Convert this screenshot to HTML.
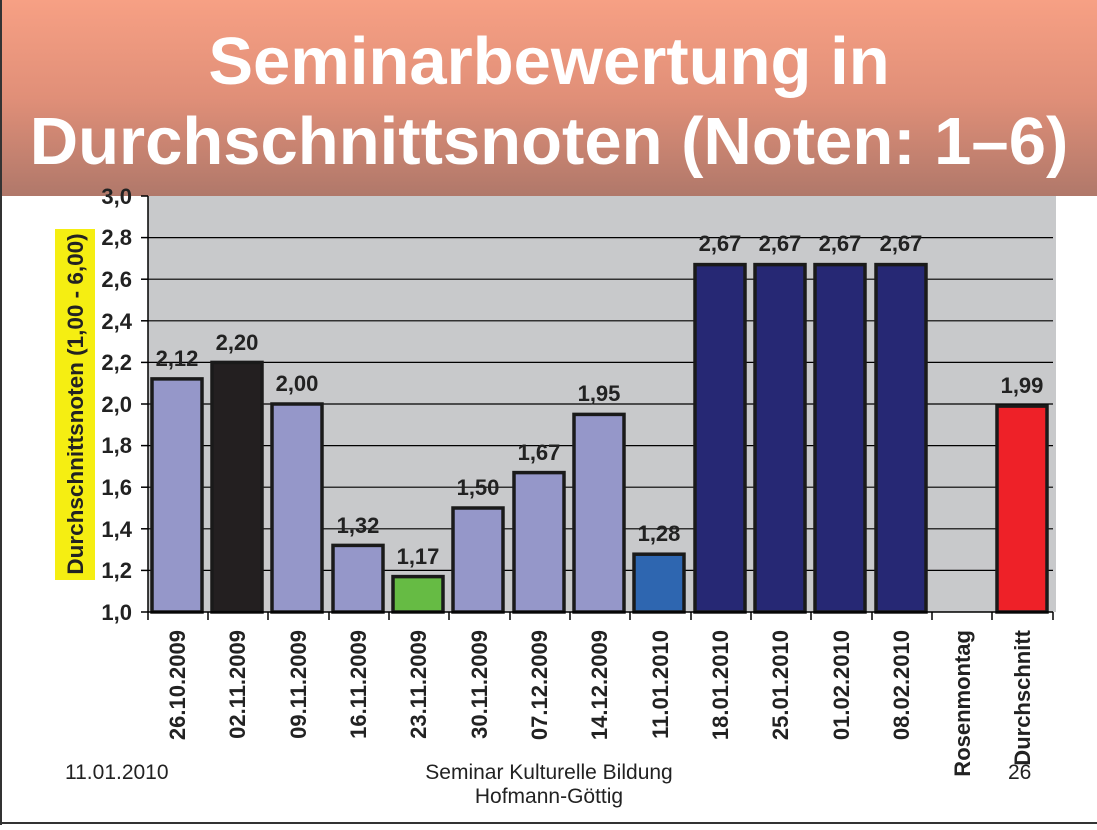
<!DOCTYPE html>
<html><head><meta charset="utf-8"><style>
body{margin:0;width:1097px;height:825px;background:#fff;overflow:hidden;font-family:"Liberation Sans",sans-serif;}
</style></head><body>
<svg width="1097" height="825" viewBox="0 0 1097 825" xmlns="http://www.w3.org/2000/svg" font-family="Liberation Sans, sans-serif">
<defs><linearGradient id="g" x1="0" y1="0" x2="0" y2="1">
<stop offset="0" stop-color="#f7a084"/><stop offset="0.5" stop-color="#e08f78"/><stop offset="1" stop-color="#b0786a"/></linearGradient></defs>
<rect x="0" y="0" width="1097" height="196" fill="url(#g)"/>
<line x1="1" y1="0" x2="1" y2="825" stroke="#333" stroke-width="2"/>
<line x1="0" y1="823" x2="1097" y2="823" stroke="#333" stroke-width="2"/>
<text x="549" y="84" font-size="67" font-weight="bold" fill="#fff" text-anchor="middle">Seminarbewertung in</text>
<text x="549" y="164" font-size="67" font-weight="bold" fill="#fff" text-anchor="middle">Durchschnittsnoten (Noten: 1–6)</text>
<rect x="148" y="196" width="908" height="416" fill="#c8c9cb"/>
<g stroke="#000" stroke-width="1.2">
<line x1="148" y1="237.6" x2="1053" y2="237.6"/><line x1="148" y1="279.2" x2="1053" y2="279.2"/>
<line x1="148" y1="320.8" x2="1053" y2="320.8"/><line x1="148" y1="362.4" x2="1053" y2="362.4"/>
<line x1="148" y1="404" x2="1053" y2="404"/><line x1="148" y1="445.6" x2="1053" y2="445.6"/>
<line x1="148" y1="487.2" x2="1053" y2="487.2"/><line x1="148" y1="528.8" x2="1053" y2="528.8"/>
<line x1="148" y1="570.4" x2="1053" y2="570.4"/>
</g>
<g stroke="#1a1a1a" stroke-width="3.5">
<rect x="152" y="378.9" width="50" height="233.1" fill="#9597c9"/>
<rect x="212" y="362.4" width="50" height="249.6" fill="#231f20"/>
<rect x="272" y="404" width="50" height="208" fill="#9597c9"/>
<rect x="333" y="545.4" width="50" height="66.6" fill="#9597c9"/>
<rect x="393" y="576.6" width="50" height="35.4" fill="#66bb44"/>
<rect x="453" y="508" width="50" height="104" fill="#9597c9"/>
<rect x="514" y="472.6" width="50" height="139.4" fill="#9597c9"/>
<rect x="574" y="414.4" width="50" height="197.6" fill="#9597c9"/>
<rect x="634" y="554.2" width="50" height="57.8" fill="#2e66b0"/>
<rect x="695" y="264.6" width="50" height="347.4" fill="#262874"/>
<rect x="755" y="264.6" width="50" height="347.4" fill="#262874"/>
<rect x="815" y="264.6" width="50" height="347.4" fill="#262874"/>
<rect x="876" y="264.6" width="50" height="347.4" fill="#262874"/>
<rect x="997" y="406.1" width="50" height="205.9" fill="#ee2128"/>
</g>
<g font-size="22" font-weight="bold" fill="#222" text-anchor="middle">
<text x="177" y="366">2,12</text><text x="237" y="350">2,20</text><text x="297" y="391">2,00</text>
<text x="358" y="533">1,32</text><text x="418" y="564">1,17</text><text x="478" y="495">1,50</text>
<text x="539" y="460">1,67</text><text x="599" y="401">1,95</text><text x="659" y="541">1,28</text>
<text x="720" y="251">2,67</text><text x="780" y="251">2,67</text><text x="840" y="251">2,67</text>
<text x="901" y="251">2,67</text><text x="1022" y="393">1,99</text>
</g>
<g stroke="#000" stroke-width="1.5">
<line x1="148" y1="196" x2="148" y2="620"/><line x1="148" y1="612" x2="1053" y2="612"/>
<line x1="141" y1="196" x2="148" y2="196"/><line x1="141" y1="237.6" x2="148" y2="237.6"/>
<line x1="141" y1="279.2" x2="148" y2="279.2"/><line x1="141" y1="320.8" x2="148" y2="320.8"/>
<line x1="141" y1="362.4" x2="148" y2="362.4"/><line x1="141" y1="404" x2="148" y2="404"/>
<line x1="141" y1="445.6" x2="148" y2="445.6"/><line x1="141" y1="487.2" x2="148" y2="487.2"/>
<line x1="141" y1="528.8" x2="148" y2="528.8"/><line x1="141" y1="570.4" x2="148" y2="570.4"/>
<line x1="141" y1="612" x2="148" y2="612"/>
<line x1="208" y1="612" x2="208" y2="620"/><line x1="268" y1="612" x2="268" y2="620"/>
<line x1="329" y1="612" x2="329" y2="620"/><line x1="389" y1="612" x2="389" y2="620"/>
<line x1="449" y1="612" x2="449" y2="620"/><line x1="510" y1="612" x2="510" y2="620"/>
<line x1="570" y1="612" x2="570" y2="620"/><line x1="630" y1="612" x2="630" y2="620"/>
<line x1="691" y1="612" x2="691" y2="620"/><line x1="751" y1="612" x2="751" y2="620"/>
<line x1="811" y1="612" x2="811" y2="620"/><line x1="872" y1="612" x2="872" y2="620"/>
<line x1="932" y1="612" x2="932" y2="620"/><line x1="992" y1="612" x2="992" y2="620"/>
<line x1="1053" y1="612" x2="1053" y2="620"/>
</g>
<g font-size="22" font-weight="bold" fill="#222" text-anchor="end">
<text x="132" y="204">3,0</text><text x="132" y="245">2,8</text><text x="132" y="287">2,6</text>
<text x="132" y="329">2,4</text><text x="132" y="370">2,2</text><text x="132" y="412">2,0</text>
<text x="132" y="453">1,8</text><text x="132" y="495">1,6</text><text x="132" y="537">1,4</text>
<text x="132" y="578">1,2</text><text x="132" y="620">1,0</text>
</g>
<rect x="55" y="229" width="40" height="351" fill="#f5ee12"/>
<text transform="translate(83,404) rotate(-90)" font-size="22.5" font-weight="bold" fill="#222" text-anchor="middle">Durchschnittsnoten (1,00 - 6,00)</text>
<g font-size="22" font-weight="bold" fill="#222" text-anchor="end">
<text transform="translate(185,630) rotate(-90)">26.10.2009</text>
<text transform="translate(245,630) rotate(-90)">02.11.2009</text>
<text transform="translate(306,630) rotate(-90)">09.11.2009</text>
<text transform="translate(366,630) rotate(-90)">16.11.2009</text>
<text transform="translate(426,630) rotate(-90)">23.11.2009</text>
<text transform="translate(487,630) rotate(-90)">30.11.2009</text>
<text transform="translate(547,630) rotate(-90)">07.12.2009</text>
<text transform="translate(607,630) rotate(-90)">14.12.2009</text>
<text transform="translate(668,630) rotate(-90)">11.01.2010</text>
<text transform="translate(728,630) rotate(-90)">18.01.2010</text>
<text transform="translate(788,630) rotate(-90)">25.01.2010</text>
<text transform="translate(849,630) rotate(-90)">01.02.2010</text>
<text transform="translate(909,630) rotate(-90)">08.02.2010</text>
<text transform="translate(970,630) rotate(-90)">Rosenmontag</text>
<text transform="translate(1030,630) rotate(-90)">Durchschnitt</text>
</g>
<g font-size="21" fill="#222">
<text x="65" y="779">11.01.2010</text>
<text x="549" y="779" text-anchor="middle">Seminar Kulturelle Bildung</text>
<text x="549" y="803" text-anchor="middle">Hofmann-Göttig</text>
<text x="1008" y="779">26</text>
</g>
</svg>
</body></html>
